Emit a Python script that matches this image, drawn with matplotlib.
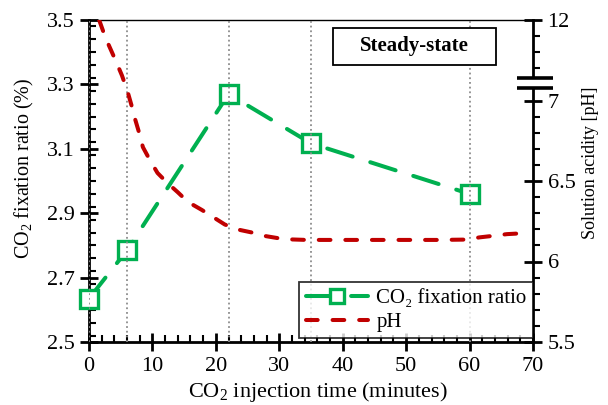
import numpy as np
import matplotlib
matplotlib.use("Agg")
import matplotlib.pyplot as plt
from matplotlib.ticker import (FixedLocator, MultipleLocator, FixedFormatter,
                               FormatStrFormatter, NullFormatter)
from matplotlib.lines import Line2D
from matplotlib.patches import Rectangle

SERIF = ['Liberation Serif', 'DejaVu Serif']
plt.rcParams['font.family'] = SERIF
plt.rcParams['font.serif'] = SERIF
plt.rcParams['mathtext.fontset'] = 'custom'
plt.rcParams['mathtext.rm'] = 'Liberation Serif'
plt.rcParams['mathtext.it'] = 'Liberation Serif:italic'

# CO2 fixation ratio sampled at the injection times
fix_time = [0, 6, 22, 35, 60]
fix_ratio = [2.635, 2.785, 3.27, 3.117, 2.96]

# Solution pH over the injection time
ph_time = [1.6, 2.6, 3.5, 4.4, 5.2, 6.1, 6.7, 7.3, 7.9, 8.5, 9.6, 10.8, 12.3,
           14.0, 15.6, 17.8, 19.4, 21.4, 23.3, 25.7, 27.5, 29.8, 32.0, 34.3,
           40, 45, 50, 55, 59.3, 61.6, 63.4, 65.9, 68.2]
ph_value = [12.0, 10.9, 10.1, 9.3, 8.55, 7.53, 6.97, 6.88, 6.80, 6.71, 6.63,
            6.55, 6.49, 6.43, 6.37, 6.32, 6.28, 6.23, 6.20, 6.18, 6.16, 6.145,
            6.137, 6.134, 6.134, 6.134, 6.134, 6.134, 6.136, 6.15, 6.158,
            6.17, 6.175]

sample_times = [0, 6, 22, 35, 60]
ratio_ticks = [2.5, 2.7, 2.9, 3.1, 3.3, 3.5]
ph_major = [5.5, 6, 6.5, 7, 12]
ph_major_labels = ['5.5', '6', '6.5', '7', '12']
ph_minor = [5.6, 5.7, 5.8, 5.9, 6.1, 6.2, 6.3, 6.4, 6.6, 6.7, 6.8, 6.9, 9, 10, 11]

GREEN = '#00B050'
RED = '#C00000'


# broken pH axis: above 7 the scale is compressed tenfold
def ph_fwd(v):
    v = np.asarray(v, dtype=float)
    return np.where(v <= 7, v, 7 + (v - 7) / 10.0)


def ph_inv(d):
    d = np.asarray(d, dtype=float)
    return np.where(d <= 7, d, 7 + (d - 7) * 10.0)


fig = plt.figure(figsize=(6.08, 4.05), dpi=100)
ax = fig.add_axes([89 / 608, 63 / 405, 444 / 608, 322 / 405])
ax2 = ax.twinx()

ax.set_xlim(0, 70)
ax.set_ylim(2.5, 3.5)
ax.xaxis.set_major_locator(MultipleLocator(10))
ax.xaxis.set_minor_locator(MultipleLocator(2))
ax.yaxis.set_major_locator(FixedLocator(ratio_ticks))
ax.yaxis.set_minor_locator(MultipleLocator(0.04))
ax.yaxis.set_major_formatter(FormatStrFormatter('%.1f'))

for t in sample_times:
    ax.axvline(t, color='#8c8c8c', lw=1.3, dashes=(1, 1.6), zorder=4)

ax.plot(fix_time, fix_ratio, color=GREEN, lw=2.9, dashes=(6.6, 4.6),
        dash_capstyle='round', marker='s', ms=13, mew=2.4, mfc='white',
        mec=GREEN, clip_on=False, zorder=3)

ax2.set_yscale('function', functions=(ph_fwd, ph_inv))
ax2.set_ylim(5.5, 12)
ax2.yaxis.set_major_locator(FixedLocator(ph_major))
ax2.yaxis.set_major_formatter(FixedFormatter(ph_major_labels))
ax2.yaxis.set_minor_locator(FixedLocator(ph_minor))
ax2.yaxis.set_minor_formatter(NullFormatter())
ax2.plot(ph_time, ph_value, color=RED, lw=2.9, dashes=(2.9, 3.7),
         dash_capstyle='round', zorder=3)

# spines
for s in ['left', 'bottom']:
    ax.spines[s].set_linewidth(2.0)
ax.spines['right'].set_visible(False)
ax.spines['top'].set_linewidth(1.0)
ax2.spines['right'].set_linewidth(2.0)
for s in ['left', 'bottom', 'top']:
    ax2.spines[s].set_visible(False)

ax.tick_params(axis='both', which='major', direction='inout', length=13,
               width=2.0, labelsize=16, pad=4, labelfontfamily='Liberation Serif')
ax.tick_params(axis='both', which='minor', direction='in', length=5, width=1.5)
ax.tick_params(axis='x', which='both', top=False)
ax.tick_params(axis='y', which='both', right=False)
ax2.tick_params(axis='y', which='major', direction='inout', length=13,
                width=2.0, labelsize=16, pad=4, labelfontfamily='Liberation Serif')
ax2.tick_params(axis='y', which='minor', direction='out', length=5, width=1.5)

ax.set_xlabel('CO$_2$ injection time (minutes)', fontsize=16)
ax.xaxis.set_label_coords(0.516, -0.118)
ax.set_ylabel('CO$_2$ fixation ratio (%)', fontsize=14.5)
ax.yaxis.set_label_coords(-0.12, 0.54)
ax2.set_ylabel('Solution acidity [pH]', fontsize=13, rotation=90)
ax2.yaxis.set_label_coords(1.11, 0.556)

# axis break marks on the pH axis
tr = ax2.get_yaxis_transform()
ax2.add_patch(Rectangle((0.97, 7.8), 0.06, 0.6, transform=tr,
                        facecolor='white', edgecolor='none', clip_on=False,
                        zorder=5))
for yv in [7.8, 8.4]:
    ax2.plot([0.965, 1.045], [yv, yv], transform=tr, color='black', lw=2.6,
             solid_capstyle='butt', clip_on=False, zorder=6)

# steady-state tag
ax.add_patch(Rectangle((0.5495, 0.860), 0.367, 0.115, transform=ax.transAxes,
                       facecolor='white', edgecolor='black', lw=1.3, zorder=6))
ax.text(0.733, 0.918, 'Steady-state', transform=ax.transAxes, ha='center',
        va='center', fontsize=15, fontweight='bold', zorder=7)

handles = [
    Line2D([], [], color=GREEN, lw=2.9, dashes=(6.6, 4.6),
           dash_capstyle='round', marker='s', ms=10, mew=2.4, mfc='white',
           mec=GREEN),
    Line2D([], [], color=RED, lw=2.9, dashes=(2.9, 3.7),
           dash_capstyle='round'),
]
leg = ax2.legend(handles, ['CO₂ fixation ratio', 'pH'], loc='lower right',
                 bbox_to_anchor=(1.0, 0.012), borderaxespad=0, fontsize=15,
                 frameon=True, fancybox=False, handlelength=3.0,
                 handletextpad=0.4, borderpad=0.3, labelspacing=0.2)
leg.get_frame().set_edgecolor('black')
leg.get_frame().set_linewidth(1.3)
leg.set_zorder(8)

fig.savefig('out.png', dpi=100)
